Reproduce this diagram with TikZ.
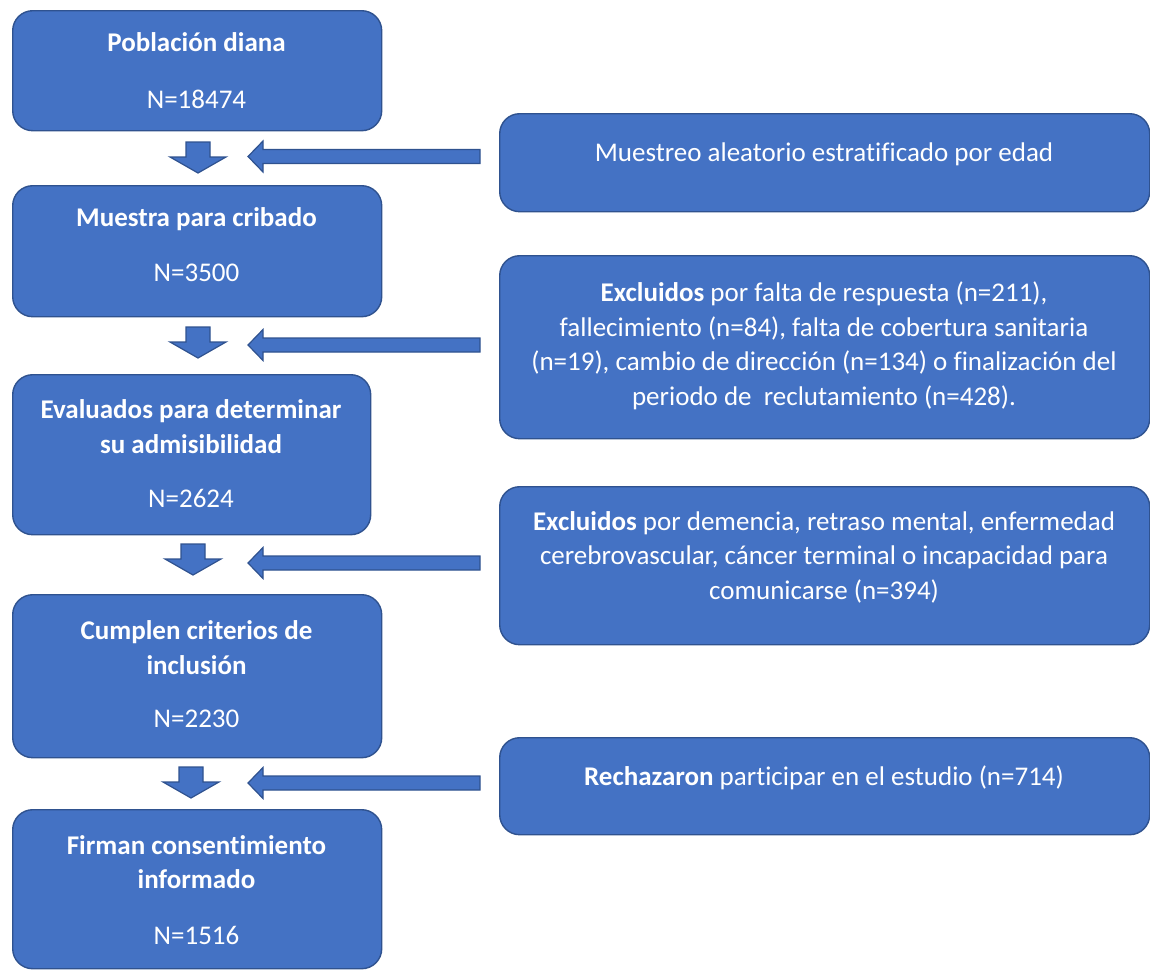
\documentclass[tikz,border=0pt]{standalone}
\usepackage{fontspec}
\setmainfont{Carlito}[Ligatures=NoCommon]
\definecolor{boxfill}{HTML}{4472C4}
\definecolor{boxline}{HTML}{2F528F}
\begin{document}
\begin{tikzpicture}[x=1pt,y=-1pt,
  box/.style={draw=boxline, fill=boxfill, line width=1.4pt, rounded corners=20pt,
              anchor=north west, inner sep=0pt},
  txt/.style={text=white, font=\fontsize{27}{34.5}\selectfont, align=center, inner sep=0pt, yshift=-2pt},
  btxt/.style={text=white, font=\fontsize{27}{34.5}\selectfont\bfseries, align=center, inner sep=0pt, yshift=-2pt},
  blockarrow/.style={draw=boxline, fill=boxfill, line width=1.2pt, line join=miter},
  downarr/.pic={\draw[blockarrow] (-12,0) -- (12,0) -- (12,15) -- (28,15) -- (0,31)
                 -- (-28,15) -- (-12,15) -- cycle;},
  leftarr/.pic={\draw[blockarrow] (0,0) -- (15,-15.5) -- (15,-7) -- (232,-7) -- (232,7)
                 -- (15,7) -- (15,15.5) -- cycle;}]
\useasboundingbox (0,0) rectangle (1150,970);

% left column boxes
\node[box, minimum width=369pt, minimum height=120pt] (b1) at (12,10) {};
\node[box, minimum width=369pt, minimum height=131pt] (b2) at (12,185) {};
\node[box, minimum width=358pt, minimum height=160pt] (b3) at (12,374) {};
\node[box, minimum width=369pt, minimum height=163pt] (b4) at (12,594) {};
\node[box, minimum width=369pt, minimum height=159pt] (b5) at (12,809) {};

% right column boxes
\node[box, minimum width=650pt, minimum height=98pt]  (r1) at (499,113) {};
\node[box, minimum width=650pt, minimum height=183pt] (r2) at (499,255) {};
\node[box, minimum width=650pt, minimum height=158pt] (r3) at (499,486) {};
\node[box, minimum width=650pt, minimum height=97pt]  (r4) at (499,737) {};

% texts left
\node[btxt] (t1a) at (196.5,43) {\strut Población diana};
\node[txt]  (t1b) at (196.5,100) {\strut N=18474};
\node[btxt] (t2a) at (196.5,218) {\strut Muestra para cribado};
\node[txt]  (t2b) at (196.5,273) {\strut N=3500};
\node[btxt] (t3a) at (191,427) {\strut Evaluados para determinar\\\strut su admisibilidad};
\node[txt]  (t3b) at (191,499) {\strut N=2624};
\node[btxt] (t4a) at (196.5,648) {\strut Cumplen criterios de\\\strut inclusión};
\node[txt]  (t4b) at (196.5,719) {\strut N=2230};
\node[btxt] (t5a) at (196.5,862.5) {\strut Firman consentimiento\\\strut informado};
\node[txt]  (t5b) at (196.5,936) {\strut N=1516};

% texts right
\node[txt] (s1) at (824,153) {\strut Muestreo aleatorio estratificado por edad};
\node[txt] (s2) at (824,344.5) {\strut\textbf{Excluidos} por falta de respuesta (n=211),\\
  \strut fallecimiento (n=84), falta de cobertura sanitaria\\
  \strut (n=19), cambio de dirección (n=134) o finalización del\\
  \strut periodo de\ \ reclutamiento (n=428).};
\node[txt] (s3) at (824,556) {\strut\textbf{Excluidos} por demencia, retraso mental, enfermedad\\
  \strut cerebrovascular, cáncer terminal o incapacidad para\\
  \strut comunicarse (n=394)};
\node[txt] (s4) at (824,777) {\strut\textbf{Rechazaron} participar en el estudio (n=714)};

% down block arrows
\pic (d1) at (198,142) {downarr};
\pic (d2) at (198,327) {downarr};
\pic (d3) at (193,544) {downarr};
\pic (d4) at (191,767) {downarr};

% left block arrows
\pic (l1) at (248,156.5) {leftarr};
\pic (l2) at (248,345) {leftarr};
\pic (l3) at (248,563) {leftarr};
\pic (l4) at (248,783) {leftarr};
\end{tikzpicture}
\end{document}
